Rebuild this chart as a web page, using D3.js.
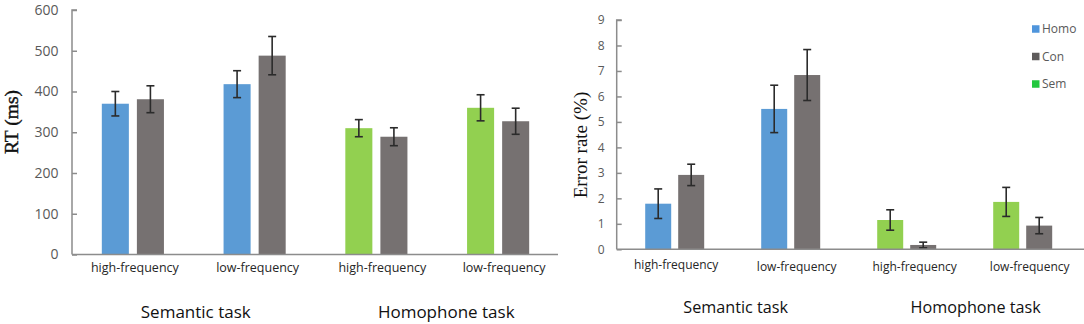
<!DOCTYPE html>
<html>
<head>
<meta charset="utf-8">
<script src="https://cdn.jsdelivr.net/npm/d3@7"></script>
<style>
  html, body { margin: 0; padding: 0; background: #fff; }
  svg { display: block; }
</style>
</head>
<body>
<svg id="chart" width="1084" height="324"></svg>
<script>
// ---------- DATA ----------
const groups = ["high-frequency", "low-frequency", "high-frequency", "low-frequency"];
const tasks = ["Semantic task", "Homophone task"];
const seriesNames = ["Homo", "Con", "Sem"];

// RT (ms): first bar of each group (Homo for semantic task, Sem for homophone task), second bar Con
const rtFirst = [370, 418, 310, 360];
const rtFirstErr = [30, 33, 21, 32];
const rtCon = [381, 488, 289, 327];
const rtConErr = [33, 47, 22, 32];
const rtTicks = [0, 100, 200, 300, 400, 500, 600];

// Error rate (%)
const erFirst = [1.79, 5.51, 1.15, 1.86];
const erFirstErr = [0.58, 0.93, 0.40, 0.57];
const erCon = [2.92, 6.84, 0.17, 0.93];
const erConErr = [0.42, 1.00, 0.11, 0.32];
const erTicks = [0, 1, 2, 3, 4, 5, 6, 7, 8, 9];

// series of first bar in each group
const firstSeries = ["Homo", "Homo", "Sem", "Sem"];

// ---------- STYLE ----------
const barColor = { Homo: "#5b9bd5", Con: "#767171", Sem: "#92d050" };
const legendColor = { Homo: "#4f95dc", Con: "#5f5c5c", Sem: "#22c83e" };
const axisColor = "#8c8c8c";
const sans = "'Open Sans', 'Noto Sans', sans-serif";
const serif = "'Liberation Serif', 'Times New Roman', serif";

const svg = d3.select("#chart");

function drawPanel(cfg) {
  const g = svg.append("g");
  const x0 = d3.scaleBand().domain(d3.range(groups.length)).range([cfg.left, cfg.right]).padding(0);
  const x1 = d3.scaleBand().domain([0, 1]).range([0, x0.bandwidth()])
    .paddingInner(cfg.pi).paddingOuter(cfg.po);
  const y = d3.scaleLinear().domain([0, d3.max(cfg.ticks)]).range([cfg.bottom, cfg.top]);

  const rows = [];
  groups.forEach((grp, i) => {
    rows.push({ gi: i, k: 0, s: firstSeries[i], v: cfg.first[i], e: cfg.firstErr[i] });
    rows.push({ gi: i, k: 1, s: "Con", v: cfg.con[i], e: cfg.conErr[i] });
  });

  // bars
  g.selectAll("rect.bar").data(rows).join("rect")
    .attr("class", "bar")
    .attr("x", d => x0(d.gi) + x1(d.k))
    .attr("width", x1.bandwidth())
    .attr("y", d => y(d.v))
    .attr("height", d => y(0) - y(d.v))
    .attr("fill", d => barColor[d.s]);

  // error bars
  const eb = g.selectAll("g.err").data(rows).join("g").attr("class", "err")
    .attr("stroke", "#2b2b2b").attr("stroke-width", 1.6);
  const cx = d => x0(d.gi) + x1(d.k) + x1.bandwidth() / 2;
  eb.append("line").attr("x1", cx).attr("x2", cx)
    .attr("y1", d => y(d.v + d.e)).attr("y2", d => y(d.v - d.e));
  eb.append("line").attr("x1", d => cx(d) - 4).attr("x2", d => cx(d) + 4)
    .attr("y1", d => y(d.v + d.e)).attr("y2", d => y(d.v + d.e));
  eb.append("line").attr("x1", d => cx(d) - 4).attr("x2", d => cx(d) + 4)
    .attr("y1", d => y(d.v - d.e)).attr("y2", d => y(d.v - d.e));

  // y axis (ticks inward)
  const yAxis = g.append("g").attr("transform", `translate(${cfg.left},0)`)
    .call(d3.axisRight(y).tickValues(cfg.ticks).tickSize(5).tickFormat(""));
  yAxis.select(".domain").attr("d", `M5,${cfg.top}H0V${cfg.bottom}`);
  yAxis.selectAll("path, line").attr("stroke", axisColor).attr("stroke-width", 1.5);

  // y tick labels
  g.selectAll("text.ytl").data(cfg.ticks).join("text")
    .attr("class", "ytl")
    .attr("x", cfg.tickLabelX)
    .attr("y", d => y(d))
    .attr("dy", "0.35em")
    .attr("text-anchor", "end")
    .attr("font-family", sans)
    .attr("font-size", cfg.tickFont)
    .attr("fill", "#595959")
    .text(d => d);

  // x axis line
  g.append("line")
    .attr("x1", cfg.left).attr("x2", cfg.axisEnd)
    .attr("y1", y(0)).attr("y2", y(0))
    .attr("stroke", axisColor).attr("stroke-width", 1.6);

  // category labels
  g.selectAll("text.cat").data(groups).join("text")
    .attr("class", "cat")
    .attr("x", (d, i) => x0(i) + x0.bandwidth() / 2 + cfg.catShift[i])
    .attr("y", (d, i) => cfg.catY[i])
    .attr("text-anchor", "middle")
    .attr("font-family", sans)
    .attr("font-size", cfg.catFont)
    .attr("fill", "#262626")
    .text(d => d);

  // task labels
  g.selectAll("text.task").data(tasks).join("text")
    .attr("class", "task")
    .attr("x", (d, i) => x0(2 * i) + x0.bandwidth() + cfg.taskShift[i])
    .attr("y", cfg.taskY)
    .attr("text-anchor", "middle")
    .attr("font-family", sans)
    .attr("font-size", cfg.taskFont)
    .attr("fill", "#111")
    .text(d => d);

  // y title
  g.append("text")
    .attr("transform", `translate(${cfg.titleX},${cfg.titleY}) rotate(-90)`)
    .attr("text-anchor", "middle")
    .attr("font-family", serif)
    .attr("font-size", cfg.titleSize)
    .attr("fill", "#111")
    .attr("stroke", "#111")
    .attr("stroke-width", cfg.titleStroke)
    .text(cfg.title);
  return { x0, y };
}

drawPanel({
  left: 72, right: 559, axisEnd: 558, top: 10, bottom: 254.5,
  pi: 0.229, po: 0.85,
  first: rtFirst, firstErr: rtFirstErr, con: rtCon, conErr: rtConErr,
  ticks: rtTicks, tickLabelX: 58.5, tickFont: 14,
  catFont: 12.5, catY: [272, 272, 272, 272], catShift: [2, 3, 6, 6],
  taskFont: 17, taskY: 318, taskShift: [2, 9],
  title: "RT (ms)", titleX: 18, titleY: 122, titleSize: 19.5, titleStroke: 0.4
});

drawPanel({
  left: 616.7, right: 1080.7, axisEnd: 1084, top: 20, bottom: 249.3,
  pi: 0.212, po: 0.864,
  first: erFirst, firstErr: erFirstErr, con: erCon, conErr: erConErr,
  ticks: erTicks, tickLabelX: 604.5, tickFont: 12,
  catFont: 12, catY: [269, 271, 271, 271], catShift: [1.5, 6, 8, 7],
  taskFont: 16.2, taskY: 313, taskShift: [3, 11],
  title: "Error rate (%)", titleX: 587, titleY: 145, titleSize: 19, titleStroke: 0
});

// legend
const legend = svg.append("g");
const legY = d3.scalePoint().domain(seriesNames).range([29, 84]);
legend.selectAll("rect").data(seriesNames).join("rect")
  .attr("x", 1032).attr("y", d => legY(d) - 3.75)
  .attr("width", 7.5).attr("height", 7.5)
  .attr("fill", d => legendColor[d]);
legend.selectAll("text").data(seriesNames).join("text")
  .attr("x", 1042).attr("y", d => legY(d)).attr("dy", "0.35em")
  .attr("font-family", sans).attr("font-size", 12).attr("fill", "#595959")
  .text(d => d);
</script>
</body>
</html>
